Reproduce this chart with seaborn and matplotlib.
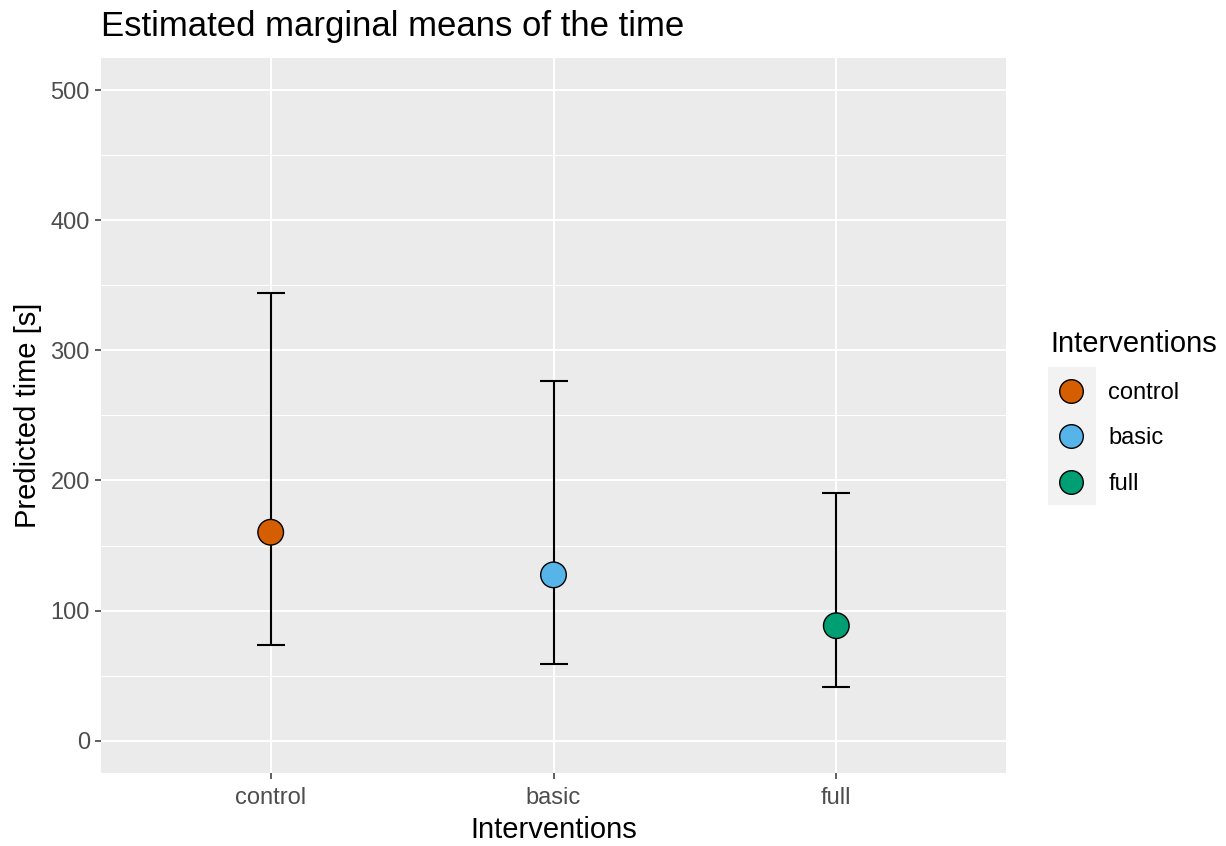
import matplotlib
matplotlib.use("Agg")
import matplotlib.pyplot as plt
from matplotlib.lines import Line2D
from matplotlib.patches import Rectangle
from matplotlib.ticker import MultipleLocator
import seaborn as sns
import pandas as pd

# Estimated marginal means with confidence limits per intervention
interventions = ["control", "basic", "full"]
emmean = [160.2, 127.4, 88.3]
lower_cl = [73.8, 59.2, 40.8]
upper_cl = [344.5, 276.2, 190.4]
colors = ["#D55E00", "#56B4E9", "#009E73"]

df = pd.DataFrame({"Interventions": interventions, "emmean": emmean,
                   "lower": lower_cl, "upper": upper_cl})

sns.set_theme(style="darkgrid")
plt.rcParams["font.family"] = ["Liberation Sans", "DejaVu Sans"]
plt.rcParams["text.color"] = "black"

fig = plt.figure(figsize=(12.26, 8.46), dpi=100)
ax = fig.add_axes([101/1226, 1 - 773/846, (1006 - 101)/1226, (773 - 58)/846])
ax.set_facecolor("#EBEBEB")
fig.patch.set_facecolor("white")

# error bars
xpos = list(range(len(interventions)))
for i, row in df.iterrows():
    ax.errorbar(i, row["emmean"],
                yerr=[[row["emmean"] - row["lower"]], [row["upper"] - row["emmean"]]],
                fmt="none", ecolor="black", elinewidth=1.5, capsize=10,
                capthick=1.5, zorder=3)

sns.scatterplot(data=df, x="Interventions", y="emmean", hue="Interventions",
                palette=colors, s=340, edgecolor="black", linewidth=1.0,
                legend=False, zorder=4, ax=ax)

ax.set_xlim(-0.6, 2.6)
ax.set_ylim(-25, 525)
ax.yaxis.set_major_locator(MultipleLocator(100))
ax.yaxis.set_minor_locator(MultipleLocator(50))
ax.grid(which="major", color="white", linewidth=1.5)
ax.grid(which="minor", axis="y", color="white", linewidth=0.75)
ax.grid(which="major", axis="x", color="white", linewidth=1.5)
for s in ax.spines.values():
    s.set_visible(False)
ax.tick_params(axis="both", which="major", length=4, width=1.1, color="#333333",
               labelsize=17, labelcolor="#4D4D4D", pad=4, left=True, bottom=True)
ax.tick_params(axis="x", which="major", pad=6)
ax.tick_params(axis="y", which="minor", length=0)
ax.set_xticks(xpos)
ax.set_xticklabels(interventions)

ax.set_xlabel("Interventions", fontsize=21, color="black", labelpad=5)
ax.set_ylabel("Predicted time [s]", fontsize=21, color="black", labelpad=6)
ax.set_title("Estimated marginal means of the time", loc="left", fontsize=25,
             color="black", pad=16)

# legend with grey key background
fig.patches.append(Rectangle((1048/1226, 1 - 505/846), 48/1226, 138/846,
                             transform=fig.transFigure, facecolor="#F2F2F2",
                             edgecolor="none", zorder=0))
handles = [Line2D([], [], marker="o", linestyle="none", markersize=17,
                  markerfacecolor=c, markeredgecolor="black", markeredgewidth=1.0)
           for c in colors]
leg = fig.legend(handles, interventions, title="Interventions",
                 loc="upper left", bbox_to_anchor=(1029/1226, 1 - 309/846),
                 frameon=False, fontsize=17, title_fontsize=21,
                 handlelength=1.78, handletextpad=0.68, labelspacing=1.0,
                 borderpad=0.4, labelcolor="black")
leg.get_title().set_color("black")
leg._legend_box.align = "left"

fig.savefig("out.png", dpi=100)
